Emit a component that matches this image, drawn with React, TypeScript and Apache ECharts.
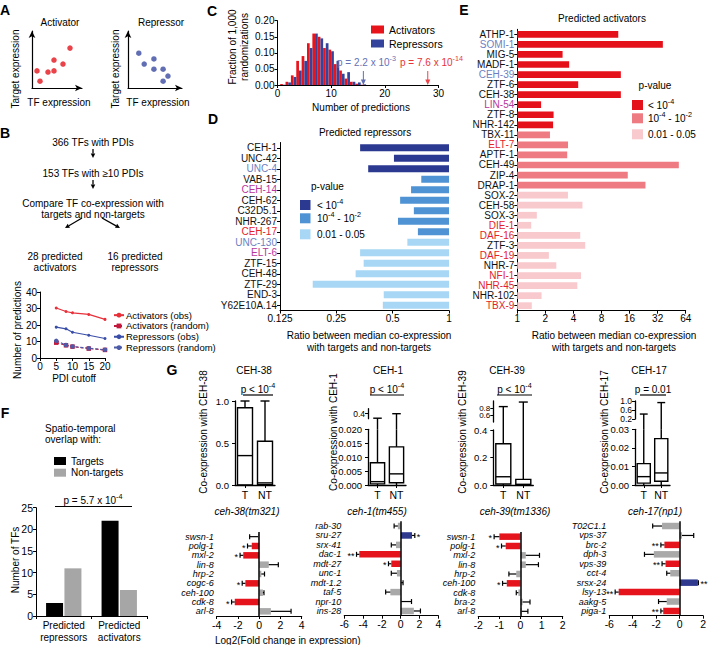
import React, { useEffect, useRef } from 'react';
import * as echarts from 'echarts';

const FONT = '"Liberation Sans", Arial, Helvetica, sans-serif';
const RED = '#e5131c';
const NAVY = '#2f3a8f';
const GRAY = '#a9a9a9';
const LBLUE = '#6d7fc2';
const MAGENTA = '#b8379c';
const LABEL_RED = '#e3222a';

// ---------- A: schematic scatter ----------
const activatorTF = [1.0, 1.6, 3.2, 4.4, 4.4, 6.2, 7.6];
const activatorTarget = [3.0, 1.2, 2.8, 3.0, 4.9, 4.2, 7.0];
const repressorTF = [2.0, 3.0, 4.8, 4.8, 6.5, 7.4, 6.5];
const repressorTarget = [6.1, 4.2, 5.1, 3.3, 3.3, 2.1, 1.2];

// ---------- B: predictions vs PDI cutoff ----------
const pdiCutoff = [5, 8, 10, 15, 20];
const activatorsObs = [30.3, 28.2, 27.4, 26.4, 23.4];
const activatorsRandom = [9.3, 7.7, 6.9, 5.7, 4.9];
const repressorsObs = [18.7, 17.7, 15.6, 13.8, 11.8];
const repressorsRandom = [10.4, 7.9, 7.0, 5.9, 5.0];

// ---------- C: randomization histogram ----------
const predictionBins = [1, 2, 3, 4, 5, 6, 7, 8, 9, 10, 11, 12, 13, 14, 15, 16];
const fracActivators = [0.003, 0.01, 0.03, 0.075, 0.09, 0.13, 0.16, 0.15, 0.115, 0.11, 0.065, 0.045, 0.02, 0.01, 0.004, 0.001];
const fracRepressors = [0.001, 0.008, 0.025, 0.045, 0.075, 0.115, 0.16, 0.145, 0.13, 0.105, 0.075, 0.035, 0.04, 0.01, 0.008, 0.002];
const observedRepressors = 16;
const observedActivators = 28;

// ---------- D: predicted repressors ----------
const repressorNames = ['CEH-1', 'UNC-42', 'UNC-4', 'VAB-15', 'CEH-14', 'CEH-62', 'C32D5.1', 'NHR-267', 'CEH-17', 'UNC-130', 'ELT-6', 'ZTF-15', 'CEH-48', 'ZTF-29', 'END-3', 'Y62E10A.14'];
const repressorRatios = [0.335, 0.508, 0.37, 0.711, 0.627, 0.548, 0.649, 0.534, 0.682, 0.599, 0.335, 0.35, 0.317, 0.187, 0.448, 0.443];
const repressorPClass = [0, 0, 0, 1, 1, 1, 1, 1, 1, 2, 2, 2, 2, 2, 2, 2];

// ---------- E: predicted activators ----------
const activatorNames = ['ATHP-1', 'SOMI-1', 'MIG-5', 'MADF-1', 'CEH-39', 'ZTF-6', 'CEH-38', 'LIN-54', 'ZTF-8', 'NHR-142', 'TBX-11', 'ELT-7', 'APTF-1', 'CEH-49', 'ZIP-4', 'DRAP-1', 'SOX-2', 'CEH-58', 'SOX-3', 'DIE-1', 'DAF-16', 'ZTF-3', 'DAF-19', 'NHR-7', 'NFI-1', 'NHR-45', 'NHR-102', 'TBX-9'];
const activatorRatios = [12.1, 36.4, 3.06, 3.6, 12.9, 4.5, 12.9, 1.8, 2.45, 2.42, 2.24, 3.5, 3.43, 54, 15.3, 23.7, 3.49, 5.0, 1.62, 1.41, 4.73, 5.35, 2.18, 2.62, 4.82, 4.4, 1.82, 1.43];
const activatorPClass = [0, 0, 0, 0, 0, 0, 0, 0, 0, 0, 1, 1, 1, 1, 1, 1, 2, 2, 2, 2, 2, 2, 2, 2, 2, 2, 2, 2];

const blueNames = ['UNC-4', 'UNC-130', 'SOMI-1', 'CEH-39'];
const magentaNames = ['CEH-14', 'ELT-6', 'LIN-54'];
const redNames = ['CEH-17', 'ELT-7', 'DIE-1', 'DAF-16', 'DAF-19', 'NFI-1', 'NHR-45', 'TBX-9'];
const repressorColors = ['#2b3990', '#4f93d4', '#a7d7f4'];
const activatorColors = ['#e4111b', '#ee7a82', '#f8c9cd'];

// ---------- F ----------
const fGroups = ['Predicted\nrepressors', 'Predicted\nactivators'];
const fTargets = [3, 22];
const fNonTargets = [11, 6];

// ---------- G: box plots [min, q1, median, q3, max] for T, NT ----------
const boxGroups = ['T', 'NT'];
const ceh38Box = [[0, 0, 0.35, 0.92, 1.0], [0, 0.005, 0.025, 0.52, 1.0]];
const ceh1Box = [[0, 0.0004, 0.0012, 0.008, 0.22], [0, 0.0008, 0.004, 0.0137, 0.4]];
const ceh39Box = [[0, 0.007, 0.06, 0.3, 0.84], [0, 0.001, 0.005, 0.041, 0.97]];
const ceh17Box = [[0, 0.001, 0.0045, 0.0115, 0.42], [0, 0.002, 0.0065, 0.025, 0.93]];
// tick labels of the lower (main) segments of the box-plot y axes
const ceh38Ticks = [0, 0.5, 1.0];
const ceh1Ticks = [0, 0.005, 0.01, 0.015, 0.02];
const ceh39Ticks = [0, 0.2, 0.4];
const ceh17Ticks = [0, 0.01, 0.02, 0.03];

// ---------- G: fold changes ----------
const ceh38Genes = ['swsn-1', 'polg-1', 'mxl-2', 'lin-8', 'hrp-2', 'cogc-6', 'ceh-100', 'cdk-8', 'arl-8'];
const ceh38Fc = [-0.1, -0.7, -1.5, 0.9, 0.2, -1.3, 0.35, -2.3, 1.1];
const ceh38Err = [0.8, 0.4, 0.3, 0.9, 0.3, 0.3, 0.1, 0.3, 1.9];
const ceh38Stars = [0, 1, 1, 0, 0, 1, 0, 1, 0];

const ceh1Genes = ['rab-30', 'sru-27', 'srx-41', 'dac-1', 'mdt-27', 'unc-1', 'mdt-1.2', 'taf-5', 'npr-10', 'ins-28'];
const ceh1Fc = [-0.3, 1.2, -0.5, -4.4, -1.0, -0.4, 0.05, -1.1, 0.05, 1.4];
const ceh1Err = [0.4, 0.3, 0.5, 0.3, 0.3, 0.6, 0.2, 0.5, 1.1, 0.7];
const ceh1Stars = [0, 1, 0, 2, 1, 0, 0, 0, 0, 0];

const ceh39Genes = ['swsn-1', 'polg-1', 'mxl-2', 'lin-8', 'hrp-2', 'ceh-100', 'cdk-8', 'bra-2', 'arl-8'];
const ceh39Fc = [-1.0, -0.7, 0.25, 0.25, -0.2, -0.65, -0.1, 0.1, 0.05];
const ceh39Err = [0.25, 0.2, 0.65, 0.6, 0.35, 0.2, 0.1, 0.35, 0.3];
const ceh39Stars = [1, 1, 0, 0, 0, 1, 0, 0, 0];

const ceh17Genes = ['T02C1.1', 'vps-37', 'brc-2', 'dph-3', 'vps-39', 'cct-4', 'srsx-24', 'lsy-13', 'aakg-5', 'piga-1'];
const ceh17Fc = [-1.5, 0.2, -1.3, -2.2, -1.2, -0.8, 1.55, -5.2, -1.1, -1.4];
const ceh17Err = [0.8, 1.0, 0.3, 0.8, 0.3, 0.3, 0.05, 0.3, 0.7, 0.2];
const ceh17Stars = [0, 0, 2, 0, 2, 0, 2, 2, 0, 2];

const nameColor = (n: string) =>
  blueNames.includes(n) ? LBLUE : magentaNames.includes(n) ? MAGENTA : redNames.includes(n) ? LABEL_RED : '#111';

function buildOption() {
  const grid: any[] = [];
  const xAxis: any[] = [];
  const yAxis: any[] = [];
  const series: any[] = [];
  const graphic: any[] = [];
  const legend: any[] = [];

  const baseAxis = () => ({
    axisLine: { show: true, onZero: false, lineStyle: { color: '#000', width: 1 } },
    axisTick: { show: true, length: 3, lineStyle: { color: '#000', width: 1 } },
    axisLabel: { show: true, color: '#000', fontSize: 10, fontFamily: FONT, margin: 3 },
    splitLine: { show: false },
  });
  const mk = (gi: number, ex: any) => {
    const b: any = baseAxis();
    const o: any = { ...b, ...ex, gridIndex: gi };
    ['axisLine', 'axisTick', 'axisLabel'].forEach((k) => {
      if (ex[k]) {
        o[k] = { ...b[k], ...ex[k] };
        if (b[k].lineStyle && ex[k].lineStyle) o[k].lineStyle = { ...b[k].lineStyle, ...ex[k].lineStyle };
      }
    });
    return o;
  };
  const panel = (left: number, top: number, width: number, height: number, xa: any, ya: any) => {
    grid.push({ left, top, width, height, containLabel: false });
    const gi = grid.length - 1;
    xAxis.push(mk(gi, xa));
    yAxis.push(mk(gi, ya));
    return gi;
  };

  const txt = (text: string, x: number, y: number, o: any = {}) => ({
    type: 'text', x, y, rotation: o.rot || 0, z: o.z || 50, silent: true,
    style: {
      text, fill: o.color || '#000', fontSize: o.size || 10, fontFamily: FONT,
      fontWeight: o.bold ? 'bold' : 'normal', fontStyle: o.italic ? 'italic' : 'normal',
      textAlign: o.align || 'center', textVerticalAlign: 'middle',
    },
  });
  const rtxt = (segs: [string, string][], x: number, y: number, o: any = {}) => {
    const size = o.size || 10;
    const color = o.color || '#000';
    return {
      type: 'text', x, y, z: 50, silent: true,
      style: {
        text: segs.map(([t, k]) => `{${k}|${t}}`).join(''),
        textAlign: o.align || 'center', textVerticalAlign: 'middle',
        rich: {
          n: { fontSize: size, fontFamily: FONT, fill: color, lineHeight: size + 4 },
          s: { fontSize: size * 0.72, fontFamily: FONT, fill: color, lineHeight: size * 0.8, verticalAlign: 'top' },
        },
      },
    };
  };
  const seg = (x1: number, y1: number, x2: number, y2: number, w = 1, c = '#000') => ({
    type: 'line', silent: true, z: 50, shape: { x1, y1, x2, y2 }, style: { stroke: c, lineWidth: w },
  });
  const arrow = (x1: number, y1: number, x2: number, y2: number, head = 4.5) => {
    const dx = x2 - x1, dy = y2 - y1;
    const L = Math.hypot(dx, dy);
    const ux = dx / L, uy = dy / L;
    const bx = x2 - ux * head, by = y2 - uy * head;
    const px = -uy * head * 0.5, py = ux * head * 0.5;
    return [
      seg(x1, y1, bx, by, 1.3),
      { type: 'polygon', silent: true, z: 50, shape: { points: [[x2, y2], [bx + px, by + py], [bx - px, by - py]] }, style: { fill: '#000' } },
    ];
  };

  // ---------- panel labels ----------
  graphic.push(txt('A', 5, 10, { bold: true, size: 14 }));
  graphic.push(txt('B', 5, 133, { bold: true, size: 14 }));
  graphic.push(txt('C', 212, 11, { bold: true, size: 14 }));
  graphic.push(txt('D', 213, 119, { bold: true, size: 14 }));
  graphic.push(txt('E', 464, 10, { bold: true, size: 14 }));
  graphic.push(txt('F', 5, 413, { bold: true, size: 14 }));
  graphic.push(txt('G', 172, 370, { bold: true, size: 14 }));

  // ---------- A ----------
  const arrowAxis = (min: number, max: number) => ({
    type: 'value', min, max,
    axisLine: { show: true, onZero: false, symbol: ['none', 'arrow'], symbolSize: [5, 7], lineStyle: { color: '#000', width: 1.2 } },
    axisTick: { show: false }, axisLabel: { show: false },
  });
  const gA1 = panel(32, 31, 50, 57, arrowAxis(0, 10), arrowAxis(0, 10));
  const gA2 = panel(128, 31, 54, 57, arrowAxis(0, 10), arrowAxis(0, 10));
  series.push({
    type: 'scatter', xAxisIndex: gA1, yAxisIndex: gA1, symbolSize: 5.5, itemStyle: { color: RED },
    data: activatorTF.map((x, i) => [x, activatorTarget[i]]),
  });
  series.push({
    type: 'scatter', xAxisIndex: gA2, yAxisIndex: gA2, symbolSize: 5.5, itemStyle: { color: '#3a4aa0' },
    data: repressorTF.map((x, i) => [x, repressorTarget[i]]),
  });
  graphic.push(txt('Activator', 60, 22));
  graphic.push(txt('Repressor', 161, 22));
  graphic.push(txt('Target expression', 15, 69, { rot: Math.PI / 2 }));
  graphic.push(txt('Target expression', 115, 69, { rot: Math.PI / 2 }));
  graphic.push(txt('TF expression', 59, 102));
  graphic.push(txt('TF expression', 158, 102));

  // ---------- B flow ----------
  graphic.push(txt('366 TFs with PDIs', 93, 142));
  graphic.push(...arrow(93, 149, 93, 158));
  graphic.push(txt('153 TFs with \u226510 PDIs', 93, 173));
  graphic.push(...arrow(93, 180, 93, 189));
  graphic.push(txt('Compare TF co-expression with', 93, 203));
  graphic.push(txt('targets and non-targets', 93, 214));
  graphic.push(...arrow(82, 218, 65, 228));
  graphic.push(...arrow(102, 218, 120, 228));
  graphic.push(txt('28 predicted', 55, 256));
  graphic.push(txt('activators', 55, 267));
  graphic.push(txt('16 predicted', 135, 256));
  graphic.push(txt('repressors', 135, 267));

  // ---------- B line chart ----------
  const gB = panel(40, 292, 65, 66,
    { type: 'value', min: 0, max: 20, interval: 5 },
    { type: 'value', min: 0, max: 40, interval: 10 });
  const lineS = (name: string, data: number[], color: string, dashed: boolean, symbol: string, size: number) => ({
    type: 'line', name, xAxisIndex: gB, yAxisIndex: gB, symbol, symbolSize: size,
    lineStyle: { color, width: 1.2, type: dashed ? [3, 2] : 'solid' }, itemStyle: { color },
    data: pdiCutoff.map((x, i) => [x, data[i]]),
  });
  series.push(lineS('Activators (obs)', activatorsObs, '#e8303a', false, 'circle', 3));
  series.push(lineS('Activators (random)', activatorsRandom, '#c2183b', true, 'rect', 4.5));
  series.push(lineS('Repressors (obs)', repressorsObs, '#3a4ea8', false, 'circle', 3));
  series.push(lineS('Repressors (random)', repressorsRandom, '#4d5aa8', true, 'circle', 4.5));
  legend.push({
    data: ['Activators (obs)', 'Activators (random)', 'Repressors (obs)', 'Repressors (random)'],
    orient: 'vertical', left: 108, top: 305, itemWidth: 10, itemHeight: 6, itemGap: 0.5,
    selectedMode: false, textStyle: { fontSize: 9.5, fontFamily: FONT, color: '#000', lineHeight: 10.3, padding: [0, 0, 0, -3] },
  });
  graphic.push(txt('Number of predictions', 17, 330, { rot: Math.PI / 2 }));
  graphic.push(txt('PDI cutoff', 74, 378));

  // ---------- C ----------
  const gC = panel(277.5, 20.7, 161, 64.3,
    { type: 'value', min: 0, max: 30, interval: 10 },
    { type: 'value', min: 0, max: 0.2, interval: 0.05, axisLabel: { formatter: (v: number) => v.toFixed(2) } });
  series.push({
    type: 'bar', name: 'Activators', xAxisIndex: gC, yAxisIndex: gC, barWidth: 2.7, barGap: '0%',
    itemStyle: { color: '#e8141c' }, data: predictionBins.map((b, i) => [b, fracActivators[i]]),
  });
  series.push({
    type: 'bar', name: 'Repressors', xAxisIndex: gC, yAxisIndex: gC, barWidth: 2.7, barGap: '0%',
    itemStyle: { color: '#34449c' }, data: predictionBins.map((b, i) => [b, fracRepressors[i]]),
  });
  const arrowPath = 'path://M4,0 L6,0 L6,12 L10,12 L5,20 L0,12 L4,12 Z';
  series.push({
    type: 'scatter', xAxisIndex: gC, yAxisIndex: gC, symbol: arrowPath, symbolSize: [5, 14], symbolOffset: [0, '-50%'],
    data: [{ value: [observedRepressors, 0], itemStyle: { color: '#3a4aa0' } }, { value: [observedActivators, 0], itemStyle: { color: '#e8141c' } }],
    z: 5,
  });
  legend.push({
    data: ['Activators', 'Repressors'], orient: 'vertical', left: 366, top: 19, itemWidth: 13, itemHeight: 8, itemGap: 3,
    icon: 'rect', selectedMode: false, textStyle: { fontSize: 10.5, fontFamily: FONT, color: '#000', lineHeight: 11 },
  });
  graphic.push(rtxt([['p = 2.2 x 10', 'n'], ['-3', 's']], 337, 62, { align: 'left', color: '#6671b5', size: 10 }));
  graphic.push(rtxt([['p = 7.6 x 10', 'n'], ['-14', 's']], 400, 62, { align: 'left', color: '#e8333b', size: 10 }));
  graphic.push(txt('Fraction of 1,000', 232, 47, { rot: Math.PI / 2 }));
  graphic.push(txt('randomizations', 244, 47, { rot: Math.PI / 2 }));
  graphic.push(txt('Number of predictions', 361, 107));

  // ---------- D ----------
  const gD = panel(280, 142.5, 169, 168,
    { type: 'value', min: -3, max: 0, interval: 1, axisLabel: { formatter: (v: number) => String(Math.pow(2, v)) } },
    { type: 'category', data: repressorNames, inverse: true, axisTick: { alignWithLabel: true }, axisLabel: { interval: 0, color: (v: string) => nameColor(v) } });
  series.push({
    type: 'bar', xAxisIndex: gD, yAxisIndex: gD, barWidth: 7,
    data: repressorRatios.map((r, i) => ({ value: Math.log2(r), itemStyle: { color: repressorColors[repressorPClass[i]] } })),
  });
  graphic.push(txt('Predicted repressors', 365, 132));
  graphic.push(txt('p-value', 311, 186, { align: 'left' }));
  const legRows = [[['< 10', 'n'], ['-4', 's']], [['10', 'n'], ['-4', 's'], [' - 10', 'n'], ['-2', 's']], [['0.01 - 0.05', 'n']]] as [string, string][][];
  [205, 218.3, 234.3].forEach((cy, i) => {
    graphic.push({ type: 'rect', silent: true, shape: { x: 300, y: cy - 5, width: 10.5, height: 10 }, style: { fill: repressorColors[i] } });
    graphic.push(rtxt(legRows[i], 317, cy, { align: 'left' }));
  });
  graphic.push(txt('Ratio between median co-expression', 369, 335));
  graphic.push(txt('with targets and non-targets', 369, 347));

  // ---------- E ----------
  const gE = panel(517.3, 29.3, 168.4, 281.4,
    { type: 'value', min: 0, max: 6, interval: 1, axisLabel: { formatter: (v: number) => String(Math.pow(2, v)) } },
    { type: 'category', data: activatorNames, inverse: true, axisTick: { alignWithLabel: true }, axisLabel: { interval: 0, color: (v: string) => nameColor(v) } });
  series.push({
    type: 'bar', xAxisIndex: gE, yAxisIndex: gE, barWidth: 6.7,
    data: activatorRatios.map((r, i) => ({ value: Math.log2(r), itemStyle: { color: activatorColors[activatorPClass[i]] } })),
  });
  graphic.push(txt('Predicted activators', 602, 18));
  graphic.push(txt('p-value', 655, 85));
  [105, 118.3, 134.3].forEach((cy, i) => {
    graphic.push({ type: 'rect', silent: true, shape: { x: 632, y: cy - 5, width: 11, height: 10 }, style: { fill: activatorColors[i] } });
    graphic.push(rtxt(legRows[i], 648, cy, { align: 'left' }));
  });
  graphic.push(txt('Ratio between median co-expression', 614, 335));
  graphic.push(txt('with targets and non-targets', 614, 347));

  // ---------- F ----------
  const gF = panel(36, 507.7, 111, 108.3,
    { type: 'category', data: fGroups, axisTick: { show: true, alignWithLabel: false }, axisLabel: { interval: 0, lineHeight: 11.5, margin: 4 } },
    { type: 'value', min: 0, max: 25, interval: 5, axisLabel: { fontSize: 10.5 } });
  series.push({ type: 'bar', name: 'Targets', xAxisIndex: gF, yAxisIndex: gF, barWidth: 17, barGap: '8%', itemStyle: { color: '#000' }, data: fTargets });
  series.push({ type: 'bar', name: 'Non-targets', xAxisIndex: gF, yAxisIndex: gF, barWidth: 17, barGap: '8%', itemStyle: { color: '#a6a6a6' }, data: fNonTargets });
  legend.push({
    data: ['Targets', 'Non-targets'], orient: 'vertical', left: 49, top: 450.5, itemWidth: 12, itemHeight: 8, itemGap: 0.7,
    icon: 'rect', selectedMode: false, textStyle: { fontSize: 10, fontFamily: FONT, color: '#000', lineHeight: 11 },
  });
  graphic.push(txt('Spatio-temporal', 45, 428, { align: 'left' }));
  graphic.push(txt('overlap with:', 45, 439, { align: 'left' }));
  graphic.push(rtxt([['p = 5.7 x 10', 'n'], ['-4', 's']], 93, 500));
  graphic.push(seg(55, 506.5, 132, 506.5, 1.2));
  graphic.push(txt('Number of TFs', 15, 560, { rot: Math.PI / 2 }));

  // ---------- G box plots ----------
  const boxRender = (lo: number, hi: number, ext: number) => (params: any, api: any) => {
    const i = api.value(0);
    const mn = api.value(1), q1 = api.value(2), md = api.value(3), q3 = api.value(4), mx = api.value(5);
    const band = api.size([1, 0])[0];
    const bw = band * 0.75;
    const cx = api.coord([i, lo])[0];
    const Y = (v: number) => api.coord([i, Math.max(lo, Math.min(hi, v))])[1];
    const st = { stroke: '#000', lineWidth: 1.4, fill: 'none' };
    const ch: any[] = [];
    if (q1 > lo && mn < hi) ch.push({ type: 'line', shape: { x1: cx, y1: Y(mn), x2: cx, y2: Y(q1) }, style: st });
    if (q3 > lo && q1 < hi) ch.push({ type: 'rect', shape: { x: cx - bw / 2, y: Y(q3), width: bw, height: Y(q1) - Y(q3) }, style: st });
    if (md >= lo && md <= hi) ch.push({ type: 'line', shape: { x1: cx - bw / 2, y1: Y(md), x2: cx + bw / 2, y2: Y(md) }, style: st });
    if (mx > lo && q3 < hi) ch.push({ type: 'line', shape: { x1: cx, y1: Y(q3) + (q3 < lo ? ext : 0), x2: cx, y2: Y(mx) }, style: st });
    if (mx >= lo && mx <= hi) ch.push({ type: 'line', shape: { x1: cx - bw * 0.3, y1: Y(mx), x2: cx + bw * 0.3, y2: Y(mx) }, style: st });
    return { type: 'group', children: ch };
  };
  const boxSeries = (gi: number, data: number[][], lo: number, hi: number, ext = 0) => ({
    type: 'custom', xAxisIndex: gi, yAxisIndex: gi, renderItem: boxRender(lo, hi, ext),
    data: data.map((d, i) => [i, ...d]), encode: { x: 0, y: 1 }, z: 3,
  });
  const hiddenX = { type: 'category', data: boxGroups, show: false };
  const fy = (min: number, max: number, interval: number, dec: number, size = 10) => ({
    type: 'value', min, max, interval,
    axisLine: { lineStyle: { width: 1.3 } },
    axisLabel: { fontSize: size, formatter: (v: number) => Number(v).toFixed(dec) },
  });
  const groupAxis = (left: number, width: number) => {
    panel(left, 484, width, 1,
      { type: 'category', data: boxGroups, axisLine: { lineStyle: { width: 1.3 } }, axisTick: { alignWithLabel: true }, axisLabel: { interval: 0, fontSize: 10.5, margin: 4 } },
      { type: 'value', show: false, min: 0, max: 1 });
  };
  // main-segment axes: ticks from the axis, tick texts placed beside them (drawn on top)
  const mainAxis = (left: number, top: number, height: number, ticks: number[], dec: number) => {
    const min = ticks[0], max = ticks[ticks.length - 1];
    ticks.forEach((v) => {
      graphic.push(txt(v.toFixed(dec), left - 6, top + height * (max - v) / (max - min), { align: 'right', size: 9.5, z: 60 }));
    });
    return { type: 'value', min, max, interval: ticks[1] - ticks[0], axisLine: { lineStyle: { width: 1.3 } }, axisLabel: { show: false } };
  };

  const g38 = panel(235, 401, 40, 84, hiddenX, mainAxis(235, 401, 84, ceh38Ticks, 1));
  series.push(boxSeries(g38, ceh38Box, 0, 1));
  groupAxis(235, 40);

  const g1L = panel(368, 429.3, 38, 55.7, hiddenX, mainAxis(368, 429.3, 55.7, ceh1Ticks, 3));
  const g1U = panel(368, 408.7, 38, 10, hiddenX, fy(0.2, 0.6, 0.2, 1, 8.5));
  series.push(boxSeries(g1L, ceh1Box, 0, 0.02));
  series.push(boxSeries(g1U, ceh1Box, 0.2, 0.6, 10.6));
  groupAxis(368, 38);

  const g39L = panel(493.3, 430, 40, 55, hiddenX, mainAxis(493.3, 430, 55, ceh39Ticks, 1));
  const g39U = panel(493.3, 401, 40, 21, hiddenX, fy(0.4, 1.0, 0.2, 1, 8));
  series.push(boxSeries(g39L, ceh39Box, 0, 0.4));
  series.push(boxSeries(g39U, ceh39Box, 0.4, 1.0, 8));
  groupAxis(493.3, 40);

  const g17L = panel(635, 429.3, 35, 55.7, hiddenX, mainAxis(635, 429.3, 55.7, ceh17Ticks, 2));
  const g17U = panel(635, 401, 35, 18, hiddenX, fy(0.2, 1.0, 0.4, 1, 8.5));
  series.push(boxSeries(g17L, ceh17Box, 0, 0.03));
  series.push(boxSeries(g17U, ceh17Box, 0.2, 1.0, 10.3));
  groupAxis(635, 35);

  const boxTitles: [string, number, string, number, number, number][] = [
    ['CEH-38', 254, 'lt', 243, 273, 203],
    ['CEH-1', 388, 'lt', 370, 404, 333],
    ['CEH-39', 507, 'lt', 497, 532, 462],
    ['CEH-17', 649, 'eq', 640, 666, 604],
  ];
  boxTitles.forEach(([name, cx, p, x1, x2, ytx]) => {
    graphic.push(txt(name, cx, 370));
    const mid = (x1 + x2) / 2;
    if (p === 'lt') graphic.push(rtxt([['p < 10', 'n'], ['-4', 's']], mid, 389));
    else graphic.push(txt('p = 0.01', mid, 389));
    graphic.push(seg(x1, 395, x2, 395, 1.2));
    graphic.push(txt('Co-expression with ' + name, ytx, 432, { rot: Math.PI / 2 }));
  });

  // ---------- G fold-change bars ----------
  const fcColor = (v: number, s: number) => (s > 0 ? (v < 0 ? RED : NAVY) : GRAY);
  const errRender = (params: any, api: any) => {
    const ci = api.value(0), v = api.value(1), e = api.value(2), s = api.value(3);
    const sg = v < 0 ? -1 : 1;
    const p0 = api.coord([v, ci]);
    const p1 = api.coord([v + sg * e, ci]);
    const st = { stroke: '#000', lineWidth: 1.2 };
    const ch: any[] = [
      { type: 'line', shape: { x1: p0[0], y1: p0[1], x2: p1[0], y2: p1[1] }, style: st },
      { type: 'line', shape: { x1: p1[0], y1: p1[1] - 2.5, x2: p1[0], y2: p1[1] + 2.5 }, style: st },
    ];
    if (s > 0) {
      ch.push({
        type: 'text', x: p1[0] + sg * 2, y: p1[1] + 1.5,
        style: { text: s === 2 ? '**' : '*', fill: '#000', fontSize: 9, fontFamily: FONT, textAlign: sg < 0 ? 'right' : 'left', textVerticalAlign: 'middle' },
      });
    }
    return { type: 'group', children: ch };
  };
  const fcPanel = (left: number, top: number, width: number, height: number, min: number, max: number, interval: number,
    genes: string[], fc: number[], err: number[], stars: number[], title: string, titleX: number) => {
    const gi = panel(left, top, width, height,
      { type: 'value', min, max, interval, axisLine: { lineStyle: { width: 1.2 } }, axisLabel: { fontSize: 10.5, margin: 3 } },
      { type: 'category', data: genes, inverse: true, axisLine: { show: false }, axisTick: { show: false }, axisLabel: { interval: 0, fontStyle: 'italic', fontSize: 9, lineHeight: 9, margin: 3 } });
    series.push({
      type: 'bar', xAxisIndex: gi, yAxisIndex: gi, barWidth: 6.5,
      data: fc.map((v, i) => ({ value: v, itemStyle: { color: fcColor(v, stars[i]) } })),
      markLine: { silent: true, symbol: 'none', label: { show: false }, lineStyle: { color: '#000', width: 1.5, type: 'solid' }, data: [{ xAxis: 0 }] },
    });
    series.push({
      type: 'custom', xAxisIndex: gi, yAxisIndex: gi, renderItem: errRender, z: 4,
      data: fc.map((v, i) => [i, v, err[i], stars[i]]), encode: { x: 1, y: 0 },
    });
    graphic.push(txt(title, titleX, 511, { italic: true }));
  };
  fcPanel(216.7, 532, 85, 84, -4, 4, 2, ceh38Genes, ceh38Fc, ceh38Err, ceh38Stars, 'ceh-38(tm321)', 247);
  fcPanel(344.3, 521.3, 94, 94.4, -6, 4, 2, ceh1Genes, ceh1Fc, ceh1Err, ceh1Stars, 'ceh-1(tm455)', 377);
  fcPanel(478.3, 532, 84.4, 84, -2, 2, 1, ceh39Genes, ceh39Fc, ceh39Err, ceh39Stars, 'ceh-39(tm1336)', 515);
  fcPanel(609.3, 521.3, 94, 94.4, -6, 2, 2, ceh17Genes, ceh17Fc, ceh17Err, ceh17Stars, 'ceh-17(np1)', 655);
  graphic.push(txt('Log2(Fold change in expression)', 215, 640, { align: 'left' }));

  return {
    animation: false,
    backgroundColor: '#fff',
    textStyle: { fontFamily: FONT },
    grid, xAxis, yAxis, series, legend,
    graphic: { elements: graphic },
  };
}

export default function App() {
  const ref = useRef<HTMLDivElement>(null);
  useEffect(() => {
    if (!ref.current) return;
    const chart = echarts.init(ref.current, null, { renderer: 'svg' });
    chart.setOption(buildOption() as any);
    return () => chart.dispose();
  }, []);
  return <div ref={ref} style={{ position: 'absolute', left: 0, top: 0, width: 709, height: 645, background: '#fff' }} />;
}
